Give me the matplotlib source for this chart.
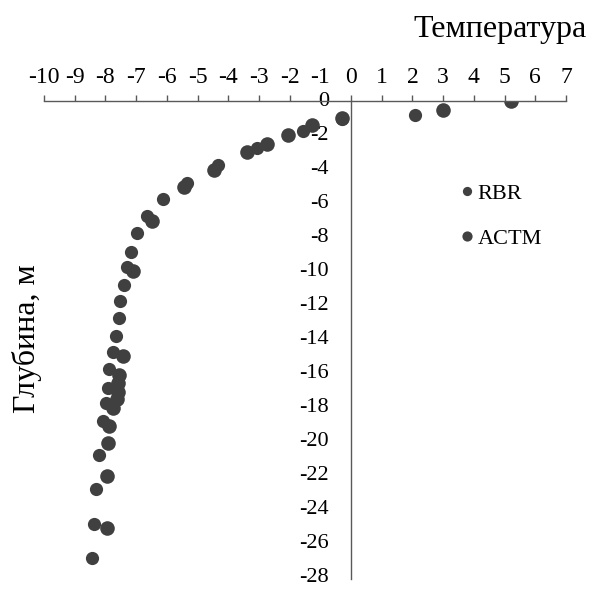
import matplotlib.pyplot as plt

# temperature (x) and depth (y) readings, two probes
rbr_temp = [2.08, -0.3, -1.57, -3.07, -4.32, -5.35, -6.11, -6.66, -6.96,
            -7.18, -7.31, -7.41, -7.54, -7.57, -7.66, -7.76, -7.87, -7.9,
            -7.98, -8.07, -8.2, -8.31, -8.36, -8.45]
rbr_depth = [-0.8, -1.05, -1.74, -2.77, -3.74, -4.81, -5.79, -6.77, -7.78,
             -8.85, -9.75, -10.82, -11.74, -12.77, -13.82, -14.76, -15.77,
             -16.86, -17.78, -18.8, -20.8, -22.79, -24.85, -26.84]

actm_temp = [5.2, 3.0, -0.3, -1.26, -2.06, -2.75, -3.38, -4.46, -5.44,
             -6.49, -7.09, -7.43, -7.55, -7.58, -7.58, -7.63, -7.74, -7.87,
             -7.9, -7.96, -7.96]
actm_depth = [0.0, -0.5, -1.0, -1.44, -1.99, -2.53, -3.02, -4.07, -5.07,
              -7.06, -9.98, -15.0, -16.1, -16.6, -17.1, -17.5, -18.07, -19.09,
              -20.1, -22.06, -25.13]

x_ticks = list(range(-10, 8))
y_ticks = list(range(0, -29, -2))

plt.rcParams["font.family"] = ["Liberation Serif", "DejaVu Serif"]

color = "#404040"
spine_color = "#595959"

fig = plt.figure(figsize=(5.93, 5.89), dpi=100)
ax = fig.add_axes([44 / 593, 1 - 579 / 589, 522 / 593, 478 / 589])

ax.plot(rbr_temp, rbr_depth, "o", color=color, markersize=9.5,
        markeredgewidth=0, label="RBR")
ax.plot(actm_temp, actm_depth, "o", color=color, markersize=10.5,
        markeredgewidth=0, label="ACTM")

ax.set_xlim(-10, 7)
ax.set_ylim(-28.1, 0)

ax.spines["bottom"].set_visible(False)
ax.spines["right"].set_visible(False)
ax.spines["left"].set_position(("data", 0))
for s in ("top", "left"):
    ax.spines[s].set_color(spine_color)
    ax.spines[s].set_linewidth(1.0)

ax.xaxis.tick_top()
ax.set_xticks(x_ticks)
ax.set_xticklabels([str(v) for v in x_ticks])
ax.tick_params(axis="x", direction="out", length=4.5, width=1.0,
               color=spine_color, labelsize=17, pad=5)

ax.set_yticks(y_ticks)
ax.set_yticklabels([str(v) for v in y_ticks])
ax.tick_params(axis="y", length=0, labelsize=16, pad=16)
for lbl in ax.get_yticklabels():
    lbl.set_verticalalignment("center")

fig.text(587 / 593, 1 - 37 / 589, "Температура", fontsize=23,
         ha="right", va="baseline")
fig.text(27 / 593, 1 - 339 / 589, "Глубина, м", fontsize=23,
         rotation=90, ha="center", va="center")

ax.legend(loc="upper left", bbox_to_anchor=(441 / 593, 1 - 163 / 589),
          bbox_transform=fig.transFigure, frameon=False, fontsize=16,
          handlelength=0.55, handletextpad=0.2, labelspacing=1.1,
          markerscale=0.7)

fig.savefig("out.png", dpi=100)
